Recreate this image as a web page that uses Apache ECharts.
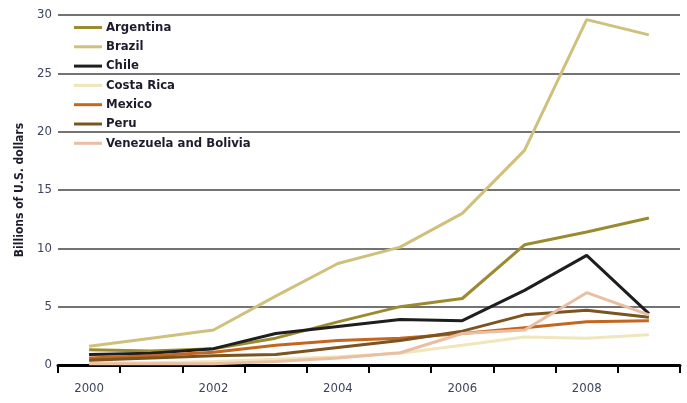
<!DOCTYPE html>
<html><head><meta charset="utf-8">
<script src="https://cdn.jsdelivr.net/npm/echarts@6/dist/echarts.min.js"></script>
<style>html,body{margin:0;padding:0;background:#fff}#c{width:687px;height:403px}</style>
</head><body><div id="c"></div>
<script>
const years = ['2000','2001','2002','2003','2004','2005','2006','2007','2008','2009'];
const argentina = [1.3, 1.2, 1.4, 2.3, 3.7, 5.0, 5.7, 10.3, 11.4, 12.6];
const brazil    = [1.6, 2.3, 3.0, 5.9, 8.7, 10.1, 13.0, 18.4, 29.6, 28.3];
const chile     = [0.9, 1.0, 1.4, 2.7, 3.3, 3.9, 3.8, 6.4, 9.4, 4.4];
const costaRica = [0.2, 0.2, 0.3, 0.5, 0.7, 1.0, 1.7, 2.4, 2.3, 2.6];
const mexico    = [0.6, 0.8, 1.1, 1.7, 2.1, 2.3, 2.7, 3.2, 3.7, 3.8];
const peru      = [0.4, 0.6, 0.8, 0.9, 1.5, 2.1, 2.9, 4.3, 4.7, 4.1];
const venezuela = [0.1, 0.1, 0.1, 0.3, 0.6, 1.05, 2.7, 3.0, 6.2, 4.3];
const names = ['Argentina','Brazil','Chile','Costa Rica','Mexico','Peru','Venezuela and Bolivia'];
const values = [argentina, brazil, chile, costaRica, mexico, peru, venezuela];
const colors = ['#9c8a30','#cfc07c','#1e1e1e','#efe6bc','#c4661f','#7b5420','#e9bea2'];
const yTicks = [0,5,10,15,20,25,30];

const FONT = "'Liberation Sans Narrow','DejaVu Sans Condensed','Arial Narrow',sans-serif";
const chart = echarts.init(document.getElementById('c'));
chart.setOption({
  animation: false,
  textStyle: {fontFamily: FONT},
  grid: {left: 58, right: 7, top: 15, bottom: 38, containLabel: false},
  legend: {
    orient: 'vertical', left: 69, top: 16, itemGap: 6.3,
    itemWidth: 28, itemHeight: 3, icon: 'rect',
    textStyle: {fontFamily: FONT, fontSize: 13, fontWeight: 'bold', color: '#1c1c2c', padding: [0,0,0,-1]},
    data: names
  },
  xAxis: {
    type: 'category', data: years, boundaryGap: true,
    axisLine: {lineStyle: {color: '#000', width: 3}},
    axisTick: {show: true, interval: 0, length: 8, lineStyle: {color: '#000', width: 2}},
    axisLabel: {interval: 1, color: '#3c4560', fontSize: 13, margin: 17, fontFamily: FONT}
  },
  yAxis: {
    type: 'value', min: 0, max: 30, interval: 5,
    name: 'Billions of U.S. dollars', nameLocation: 'middle', nameGap: 32, nameRotate: 90,
    nameTextStyle: {fontFamily: FONT, fontSize: 12, fontWeight: 'bold', color: '#1c1c2c'},
    axisLine: {show: false}, axisTick: {show: false},
    axisLabel: {color: '#3c4560', fontSize: 13, margin: 6, fontFamily: FONT,
      formatter: v => yTicks.includes(v) ? String(v) : ''},
    splitLine: {lineStyle: {color: '#444', width: 1.5}}
  },
  series: names.map((n, i) => ({
    name: n, type: 'line', data: values[i], showSymbol: false, symbol: 'none',
    lineStyle: {color: colors[i], width: 3}, itemStyle: {color: colors[i]}
  }))
});
</script></body></html>
